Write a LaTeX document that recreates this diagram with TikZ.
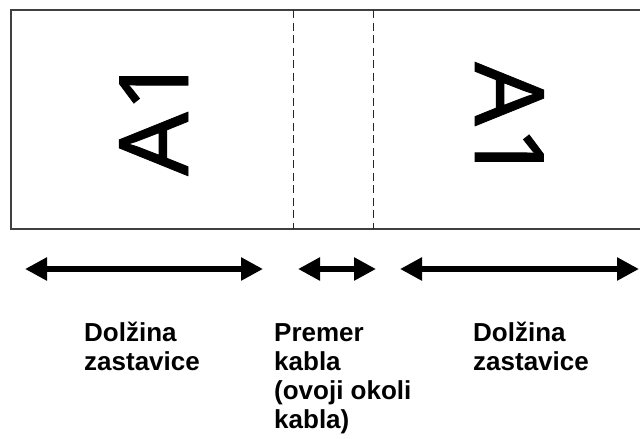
\documentclass[tikz,border=0pt]{standalone}
\usepackage{fontspec}
\setmainfont{Liberation Sans}
\newfontfamily\tagfont[FakeBold=0.8]{Noto Sans}
\usetikzlibrary{arrows.meta}
\begin{document}
\begin{tikzpicture}[x=1pt,y=-1pt,
  frame/.style={draw=black!75, line width=1.5pt},
  fold/.style={draw=black!85, line width=1pt, dash pattern=on 8pt off 4.5pt},
  big/.style={font=\tagfont\fontsize{96}{96}\selectfont, inner sep=0pt, anchor=base west},
  dimarrow/.style={line width=5.5pt, {Triangle[length=22pt,width=22pt]}-{Triangle[length=22pt,width=22pt]}},
  lbl/.style={font=\bfseries\fontsize{26}{29}\selectfont, align=left, anchor=base west, inner sep=0pt}]
\useasboundingbox (0,0) rectangle (640,439);
\clip (0,0) rectangle (640,439);
\fill[white] (0,0) rectangle (640,439);
% label strip
\draw[frame] (11,10) rectangle (660,229);
\coordinate (f1t) at (293,10);
\coordinate (f1b) at (293,229);
\coordinate (f2t) at (373,10);
\coordinate (f2b) at (373,229);
\draw[fold] (f1t) -- (f1b);
\draw[fold] (f2t) -- (f2b);
\node[big, rotate=90] (tagL) at (188,176) {\scalebox{1.04}[1]{A1}};
\node[big, rotate=-90] (tagR) at (475,62) {\scalebox{1.04}[1]{A1}};
% dimension arrows
\coordinate (a1s) at (25,269);
\coordinate (a1e) at (263,269);
\coordinate (a2s) at (298,269);
\coordinate (a2e) at (376,269);
\coordinate (a3s) at (400,269);
\coordinate (a3e) at (639,269);
\draw[dimarrow] (a1s) -- (a1e);
\draw[dimarrow] (a2s) -- (a2e);
\draw[dimarrow] (a3s) -- (a3e);
% labels (anchored at the baseline of their last line)
\node[lbl] (l1) at (84,370) {Dolžina\\zastavice};
\node[lbl] (l2) at (274,428) {Premer\\kabla\\(ovoji okoli\\kabla)};
\node[lbl] (l3) at (473,370) {Dolžina\\zastavice};
\end{tikzpicture}
\end{document}
